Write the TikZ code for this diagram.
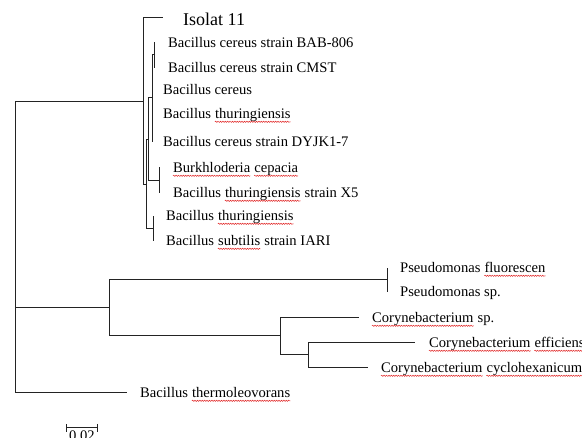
\documentclass[tikz,border=0pt]{standalone}
\usepackage{fontspec}
\setmainfont{Liberation Serif}
\usepackage{tikz}
\usetikzlibrary{arrows.meta, positioning, decorations.pathmorphing}
\definecolor{branchcolor}{RGB}{35,35,35}
\definecolor{spellcolor}{RGB}{225,40,40}

\begin{document}
\begin{tikzpicture}[
    x=1pt, y=-1pt,
    branch/.style={draw=branchcolor, line width=1pt},
    word/.style={inner sep=0pt, font=\fontsize{14.6}{17}\selectfont},
    leaf/.style={word, anchor=base west, yshift=-5pt},
    isolat/.style={leaf, yshift=-3pt, font=\fontsize{18}{21}\selectfont},
    squig/.style={draw=spellcolor, line width=0.5pt, decorate, decoration={snake, amplitude=0.6pt, segment length=2.4pt}}
]
    \useasboundingbox (0,0) rectangle (582,438);

    % Root and main clades
    \coordinate (root) at (15,247);
    \coordinate (nA) at (143,102);
    \coordinate (nP) at (109,308);
    \coordinate (tThermo) at (127,393);

    % Bacillus clade
    \coordinate (nB) at (146,185);
    \coordinate (nE) at (148,140);
    \coordinate (nF) at (153,229);
    \coordinate (nC) at (152,98);
    \coordinate (nG) at (159,181);
    \coordinate (nH) at (154,55);
    \coordinate (tIso) at (163,18);
    \coordinate (tBab) at (155,43);
    \coordinate (tCmst) at (155,68);
    \coordinate (tCer) at (152,90);
    \coordinate (tThu) at (152,114);
    \coordinate (tDyjk) at (152,142);
    \coordinate (tBur) at (160,168);
    \coordinate (tX5) at (160,193);
    \coordinate (tThuB) at (153,216);
    \coordinate (tSub) at (153,241);

    % Pseudomonas / Corynebacterium clade
    \coordinate (nQ) at (387,280);
    \coordinate (nK) at (280,336);
    \coordinate (nL) at (308,355);
    \coordinate (tFlu) at (387,268);
    \coordinate (tPsp) at (387,292);
    \coordinate (tCsp) at (359,318);
    \coordinate (tEff) at (415,343);
    \coordinate (tCyc) at (368,368);

    % Branches
    \draw[branch] (root) |- (nA);
    \draw[branch] (root) |- (nP);
    \draw[branch] (root) |- (tThermo);
    \draw[branch] (nA) |- (tIso);
    \draw[branch] (nA) |- (nB);
    \draw[branch] (nB) |- (nE);
    \draw[branch] (nB) |- (nF);
    \draw[branch] (nE) |- (nC);
    \draw[branch] (nE) |- (nG);
    \draw[branch] (nC) |- (nH);
    \draw[branch] (nC) |- (tCer);
    \draw[branch] (nC) |- (tThu);
    \draw[branch] (nC) |- (tDyjk);
    \draw[branch] (nH) |- (tBab);
    \draw[branch] (nH) |- (tCmst);
    \draw[branch] (nG) |- (tBur);
    \draw[branch] (nG) |- (tX5);
    \draw[branch] (nF) |- (tThuB);
    \draw[branch] (nF) |- (tSub);
    \draw[branch] (nP) |- (nQ);
    \draw[branch] (nP) |- (nK);
    \draw[branch] (nQ) |- (tFlu);
    \draw[branch] (nQ) |- (tPsp);
    \draw[branch] (nK) |- (tCsp);
    \draw[branch] (nK) |- (nL);
    \draw[branch] (nL) |- (tEff);
    \draw[branch] (nL) |- (tCyc);

    % Leaf labels
    \node[right=20pt of tIso, isolat] (lIso) {Isolat 11};
    \node[right=13pt of tBab, leaf] (lBab) {Bacillus cereus strain BAB-806};
    \node[right=13pt of tCmst, leaf] (lCmst) {Bacillus cereus strain CMST};
    \node[right=11pt of tCer, leaf] (lCer) {Bacillus cereus};
    \node[right=11pt of tThu, leaf] (lThu) {Bacillus};
    \node[base right=3.65pt of lThu, word] (lThuW) {thuringiensis};
    \node[right=11pt of tDyjk, leaf] (lDyjk) {Bacillus cereus strain DYJK1-7};
    \node[right=13pt of tBur, leaf] (lBur) {Burkhloderia};
    \node[base right=3.65pt of lBur, word] (lBurW) {cepacia};
    \node[right=13pt of tX5, leaf] (lX5) {Bacillus};
    \node[base right=3.65pt of lX5, word] (lX5W) {thuringiensis};
    \node[base right=3.65pt of lX5W, word] (lX5S) {strain X5};
    \node[right=13pt of tThuB, leaf] (lThuB) {Bacillus};
    \node[base right=3.65pt of lThuB, word] (lThuBW) {thuringiensis};
    \node[right=13pt of tSub, leaf] (lSub) {Bacillus};
    \node[base right=3.65pt of lSub, word] (lSubW) {subtilis};
    \node[base right=3.65pt of lSubW, word] (lSubS) {strain IARI};
    \node[right=13pt of tFlu, leaf] (lFlu) {Pseudomonas};
    \node[base right=3.65pt of lFlu, word] (lFluW) {fluorescen};
    \node[right=13pt of tPsp, leaf] (lPsp) {Pseudomonas sp.};
    \node[right=13pt of tCsp, leaf] (lCsp) {Corynebacterium};
    \node[base right=3.65pt of lCsp, word] (lCspS) {sp.};
    \node[right=14pt of tEff, leaf] (lEff) {Corynebacterium};
    \node[base right=3.65pt of lEff, word] (lEffW) {efficiens};
    \node[right=13pt of tCyc, leaf] (lCyc) {Corynebacterium};
    \node[base right=3.65pt of lCyc, word] (lCycW) {cyclohexanicum};
    \node[right=13pt of tThermo, leaf] (lThermo) {Bacillus};
    \node[base right=3.65pt of lThermo, word] (lThermoW) {thermoleovorans};

    % Spelling marks
    \draw[squig] ([yshift=-2.8pt]lThuW.base west) -- ([yshift=-2.8pt]lThuW.base east);
    \draw[squig] ([yshift=-2.8pt]lBur.base west) -- ([yshift=-2.8pt]lBur.base east);
    \draw[squig] ([yshift=-2.8pt]lBurW.base west) -- ([yshift=-2.8pt]lBurW.base east);
    \draw[squig] ([yshift=-2.8pt]lX5W.base west) -- ([yshift=-2.8pt]lX5W.base east);
    \draw[squig] ([yshift=-2.8pt]lThuBW.base west) -- ([yshift=-2.8pt]lThuBW.base east);
    \draw[squig] ([yshift=-2.8pt]lSubW.base west) -- ([yshift=-2.8pt]lSubW.base east);
    \draw[squig] ([yshift=-2.8pt]lFluW.base west) -- ([yshift=-2.8pt]lFluW.base east);
    \draw[squig] ([yshift=-2.8pt]lCsp.base west) -- ([yshift=-2.8pt]lCsp.base east);
    \draw[squig] ([yshift=-2.8pt]lEff.base west) -- ([yshift=-2.8pt]lEff.base east);
    \draw[squig] ([yshift=-2.8pt]lEffW.base west) -- ([yshift=-2.8pt]lEffW.base east);
    \draw[squig] ([yshift=-2.8pt]lCyc.base west) -- ([yshift=-2.8pt]lCyc.base east);
    \draw[squig] ([yshift=-2.8pt]lCycW.base west) -- ([yshift=-2.8pt]lCycW.base east);
    \draw[squig] ([yshift=-2.8pt]lThermoW.base west) -- ([yshift=-2.8pt]lThermoW.base east);

    % Scale bar
    \coordinate (sbL) at (66,428);
    \coordinate (sbR) at (98,428);
    \coordinate (sbM) at (82,428);
    \draw[branch, {Bar[width=8pt]}-{Bar[width=8pt]}] (sbL) -- (sbR);
    \node[below=3pt of sbM, inner sep=0pt, font=\fontsize{14.6}{17}\selectfont] (sbLabel) {0.02};
\end{tikzpicture}
\end{document}
